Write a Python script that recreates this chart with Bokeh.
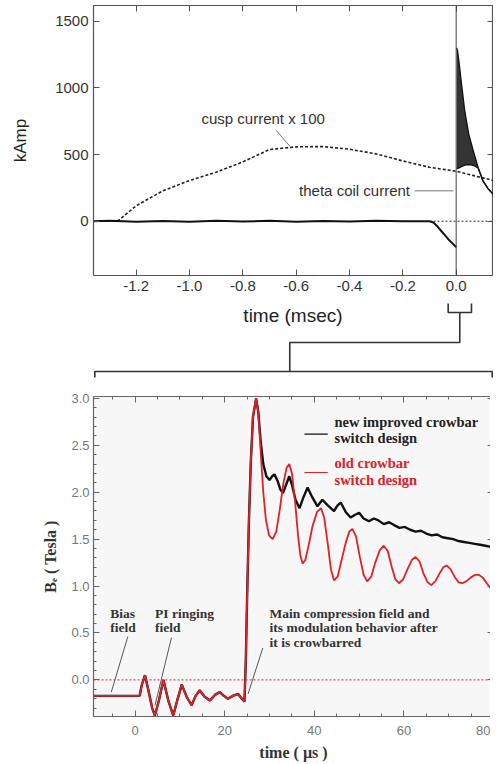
from bokeh.plotting import figure
from bokeh.layouts import column
from bokeh.models import (Range1d, FixedTicker, PrintfTickFormatter, LinearAxis, Span, Label,
                          CustomLabelingPolicy)
from bokeh.embed import file_html
from bokeh.resources import INLINE

# ---------------- top panel: currents (kAmp) vs time (msec) ----------------
theta_t = [-1.36, -1.30, -1.20, -1.10, -1.00, -0.90, -0.80, -0.70, -0.60, -0.50, -0.40, -0.30,
           -0.20, -0.10, -0.085, -0.07, -0.055, -0.04, -0.025, -0.012, -0.003, 0.0]
theta_v = [0, 3, -4, 2, -3, 4, -2, 3, -3, 2, -2, 3, -1, 0, -10, -40, -75, -110, -145, -170, -188, -195]

band_t = [0.002, 0.005, 0.01, 0.02, 0.032, 0.047, 0.064, 0.082, 0.10, 0.12, 0.14]
band_hi = [1300, 1280, 1205, 1030, 830, 655, 530, 405, 305, 243, 200]
band_lo = [400, 395, 400, 410, 420, 425, 420, 400, 305, 243, 200]

cusp_t = [-1.27, -1.2, -1.1, -1.0, -0.9, -0.8, -0.7, -0.6, -0.5, -0.4, -0.3, -0.2, -0.1, 0.0, 0.07, 0.14]
cusp_v = [0, 116, 228, 305, 368, 445, 538, 558, 560, 540, 505, 452, 405, 375, 340, 305]

top_xticks = [-1.2, -1.0, -0.8, -0.6, -0.4, -0.2, 0.0]
top_yticks = [0, 500, 1000, 1500]

# ---------------- bottom panel: B field (Tesla) vs time (us) ----------------
pre_t = [-9.3, -5.0, 0.0, 1.0, 1.5, 2.2, 3.0, 3.8, 4.4, 5.3, 6.3, 7.4, 8.5, 9.5, 10.4, 11.5, 12.6,
         13.5, 14.4, 15.5, 16.7, 17.8, 18.9, 19.8, 20.7, 21.8, 23.0, 23.8, 24.4,
         24.7, 25.0, 25.4, 25.8, 26.3]
pre_b = [-0.17, -0.17, -0.17, -0.17, -0.05, 0.05, -0.12, -0.30, -0.38, -0.22, 0.0, -0.22, -0.38,
         -0.20, -0.05, -0.18, -0.27, -0.17, -0.11, -0.18, -0.22, -0.16, -0.13, -0.17, -0.20,
         -0.17, -0.15, -0.20, -0.23, 0.2, 0.9, 1.7, 2.3, 2.8]

new_t = [27.0, 27.5, 28.0, 28.6, 29.3, 30.0, 30.6, 31.1, 31.8, 32.4, 33.0, 33.7, 34.4, 35.0, 35.8,
         36.7, 37.6, 38.5, 39.5, 40.7, 41.8, 43.0, 44.4, 45.2, 45.9, 47.0, 48.1, 49.1, 50.0, 51.0,
         52.2, 53.3, 54.3, 55.5, 56.7, 57.8, 59.0, 60.2, 61.4, 62.6, 63.8, 65.0, 66.2, 67.4, 68.6,
         69.8, 71.0, 72.2, 73.4, 74.6, 75.8, 77.0, 78.2, 79.2, 80.0]
new_b = [3.00, 2.85, 2.55, 2.30, 2.17, 2.13, 2.17, 2.19, 2.12, 2.03, 1.99, 2.08, 2.17, 2.08, 1.92,
         1.83, 1.95, 2.05, 1.95, 1.85, 1.92, 1.86, 1.80, 1.86, 1.89, 1.79, 1.73, 1.76, 1.78, 1.72,
         1.69, 1.72, 1.70, 1.66, 1.68, 1.65, 1.62, 1.63, 1.60, 1.58, 1.59, 1.56, 1.54, 1.55, 1.52,
         1.51, 1.50, 1.48, 1.47, 1.46, 1.45, 1.44, 1.43, 1.42, 1.41]

old_t = [27.0, 27.5, 28.0, 28.6, 29.2, 29.9, 30.7, 31.5, 32.3, 33.1, 33.8, 34.4, 35.0, 35.7, 36.4,
         36.9, 37.4, 38.0, 38.8, 39.6, 40.6, 41.5, 42.2, 43.0, 43.7, 44.4, 45.2, 46.1, 47.0, 47.8,
         48.5, 49.3, 50.2, 51.0, 51.8, 52.7, 53.6, 54.6, 55.5, 56.4, 57.3, 58.1, 58.9, 59.8, 60.8,
         61.8, 62.6, 63.5, 64.4, 65.3, 66.1, 67.0, 67.9, 68.8, 69.5, 70.4, 71.3, 72.2, 73.0, 73.9,
         74.9, 75.9, 76.7, 77.6, 78.5, 79.3, 80.0]
old_b = [3.00, 2.85, 2.45, 2.00, 1.70, 1.54, 1.50, 1.58, 1.82, 2.10, 2.26, 2.30, 2.20, 1.90, 1.52,
         1.32, 1.24, 1.28, 1.45, 1.64, 1.79, 1.83, 1.73, 1.45, 1.18, 1.06, 1.10, 1.28, 1.46, 1.58,
         1.61, 1.53, 1.30, 1.12, 1.05, 1.10, 1.25, 1.38, 1.43, 1.37, 1.20, 1.07, 1.03, 1.07, 1.18,
         1.28, 1.31, 1.26, 1.13, 1.04, 1.01, 1.05, 1.13, 1.20, 1.22, 1.18, 1.10, 1.04, 1.03, 1.05,
         1.09, 1.12, 1.12, 1.09, 1.03, 0.98, 0.96]

bot_xticks = [0, 20, 40, 60, 80]
bot_xminor = [-5, 5, 10, 15, 25, 30, 35, 45, 50, 55, 65, 70, 75]
bot_yticks = [0.0, 0.5, 1.0, 1.5, 2.0, 2.5, 3.0]
bot_yminor = [-0.3, -0.2, -0.1, 0.1, 0.2, 0.3, 0.4, 0.6, 0.7, 0.8, 0.9, 1.1, 1.2, 1.3, 1.4,
              1.6, 1.7, 1.8, 1.9, 2.1, 2.2, 2.3, 2.4, 2.6, 2.7, 2.8, 2.9]

RED = "#e0202a"
SANS = "Liberation Sans"
SERIF = "Liberation Serif"


def mirror(p, side, ticker, tick_color, major_in, minor_in):
    # tick marks only (inside), no labels drawn at all
    ax = LinearAxis(ticker=ticker, axis_line_color=None,
                    major_tick_in=major_in, major_tick_out=0,
                    minor_tick_in=minor_in, minor_tick_out=0,
                    major_tick_line_color=tick_color, minor_tick_line_color=tick_color,
                    major_label_standoff=0, major_label_text_font_size="0px",
                    major_label_policy=CustomLabelingPolicy(
                        code="for (const i of Array.from(indices)) { indices.unset(i) } return indices"))
    p.add_layout(ax, side)


# ======================= TOP FIGURE =======================
top = figure(frame_width=400, frame_height=270, min_border_left=93, min_border_right=0,
             min_border_top=5, min_border_bottom=0,
             x_range=Range1d(-1.36, 0.14), y_range=Range1d(-407, 1618),
             toolbar_location=None, output_backend="svg")
top.grid.visible = False
top.outline_line_color = "#555555"
top.outline_line_width = 1.2
top.xaxis.ticker = FixedTicker(ticks=top_xticks)
top.xaxis.formatter = PrintfTickFormatter(format="%.1f")
top.yaxis.ticker = FixedTicker(ticks=top_yticks)
for ax in (top.xaxis[0], top.yaxis[0]):
    ax.axis_line_color = None
    ax.major_tick_in = 6
    ax.major_tick_out = 0
    ax.minor_tick_line_color = None
    ax.major_tick_line_color = "#555555"
    ax.major_label_text_font = SANS
    ax.major_label_text_font_size = "15px"
    ax.major_label_text_color = "#333333"
    ax.major_label_standoff = 5
top.yaxis.axis_label = "kAmp"
top.yaxis.axis_label_text_font = SANS
top.yaxis.axis_label_text_font_size = "17px"
top.yaxis.axis_label_text_font_style = "normal"
top.yaxis.axis_label_text_color = "#222222"
top.yaxis.axis_label_standoff = 22
mirror(top, "above", FixedTicker(ticks=top_xticks), "#555555", 6, 0)
mirror(top, "right", FixedTicker(ticks=top_yticks), "#555555", 6, 0)

top.add_layout(Span(location=0, dimension="height", line_color="#444444", line_width=1))
top.line([-0.1, 0.14], [0, 0], line_color="#333333", line_dash="2 2", line_width=1)
top.line(cusp_t, cusp_v, line_color="#222222", line_dash="3 2", line_width=1.6)
top.line(theta_t, theta_v, line_color="#111111", line_width=2)
top.varea(x=band_t, y1=band_lo, y2=band_hi, fill_color="#111111", fill_alpha=0.85)
top.line(band_t, band_hi, line_color="#111111", line_width=1.3)
top.line(band_t, band_lo, line_color="#111111", line_width=1.3)

top.add_layout(Label(x=-0.955, y=770, text="cusp current x 100", text_font=SANS,
                     text_font_size="15px", text_color="#333333", text_baseline="middle"))
top.line([-0.674, -0.624], [680, 563], line_color="#777777", line_width=1)
top.add_layout(Label(x=-0.589, y=228, text="theta coil current", text_font=SANS,
                     text_font_size="15px", text_color="#333333", text_baseline="middle"))
top.line([-0.156, -0.01], [228, 228], line_color="#777777", line_width=1)

# ======================= MIDDLE (zoom bracket) =======================
mid = figure(frame_width=400, frame_height=93, min_border_left=93, min_border_right=0,
             min_border_top=0, min_border_bottom=0, x_range=top.x_range, y_range=Range1d(0, 93),
             x_axis_type=None, y_axis_type=None, toolbar_location=None, output_backend="svg")
mid.grid.visible = False
mid.outline_line_color = None
mid.add_layout(Label(x=-0.612, y=71, text="time (msec)", text_font=SANS, text_font_size="19px",
                     text_color="#222222", text_align="center", text_baseline="middle"))
mid.line([-0.030, -0.030, 0.0574, 0.0574], [83, 74, 74, 83], line_color="#333333", line_width=1.6)
mid.line([0.0135, 0.0135, -0.624, -0.624], [74, 44, 44, 15], line_color="#333333", line_width=1.6)
mid.line([-1.355, -1.355, 0.135, 0.135], [9, 15, 15, 9], line_color="#333333", line_width=1.6)

# ======================= BOTTOM FIGURE =======================
bot = figure(frame_width=400, frame_height=320, min_border_left=90, min_border_right=0,
             min_border_top=10, min_border_bottom=0,
             x_range=Range1d(-9.3, 80), y_range=Range1d(-0.39, 3.02),
             toolbar_location=None, output_backend="svg",
             background_fill_color="#f7f7f7")
bot.grid.visible = False
bot.outline_line_color = "#666666"
bot.outline_line_width = 1.2
bot.xaxis.ticker = FixedTicker(ticks=bot_xticks, minor_ticks=bot_xminor)
bot.yaxis.ticker = FixedTicker(ticks=bot_yticks, minor_ticks=bot_yminor)
bot.yaxis.formatter = PrintfTickFormatter(format="%.1f")
for ax in (bot.xaxis[0], bot.yaxis[0]):
    ax.axis_line_color = None
    ax.major_tick_in = 6
    ax.major_tick_out = 0
    ax.minor_tick_in = 3
    ax.minor_tick_out = 0
    ax.major_tick_line_color = "#666666"
    ax.minor_tick_line_color = "#666666"
    ax.major_label_text_font = SANS
    ax.major_label_text_font_size = "13px"
    ax.major_label_text_color = "#777777"
    ax.axis_label_text_font = SERIF
    ax.axis_label_text_font_style = "bold"
    ax.axis_label_text_color = "#333333"
bot.xaxis.major_label_standoff = 9
bot.xaxis.axis_label = "time ( µs )"
bot.xaxis.axis_label_text_font_size = "16px"
bot.xaxis.axis_label_standoff = 6
bot.yaxis.major_label_standoff = 4
bot.yaxis.axis_label = "Bₑ ( Tesla )"
bot.yaxis.axis_label_text_font_size = "16px"
bot.yaxis.axis_label_standoff = 9
mirror(bot, "above", FixedTicker(ticks=bot_xticks, minor_ticks=bot_xminor), "#666666", 6, 3)
mirror(bot, "right", FixedTicker(ticks=bot_yticks, minor_ticks=bot_yminor), "#666666", 6, 3)

bot.add_layout(Span(location=0, dimension="width", line_color=RED, line_dash="2 2", line_width=1))
bot.line(pre_t + new_t, pre_b + new_b, line_color="#111111", line_width=2.4)
bot.line(pre_t + old_t, pre_b + old_b, line_color=RED, line_width=1.8)

# legend (drawn by hand: text colour matches each series)
bot.line([37.8, 43.0], [2.62, 2.62], line_color="#111111", line_width=1.2)
bot.line([37.8, 43.0], [2.21, 2.21], line_color=RED, line_width=1.2)
for txt, yy, col in [("new improved crowbar", 2.75, "#222222"), ("switch design", 2.58, "#222222"),
                     ("old crowbar", 2.31, RED), ("switch design", 2.13, RED)]:
    bot.add_layout(Label(x=44.5, y=yy, text=txt, text_font=SERIF, text_font_size="14.5px",
                         text_font_style="bold", text_color=col, text_baseline="middle"))

# annotations
for txt, xx, yy in [("Bias", -5.56, 0.71), ("field", -5.56, 0.555),
                    ("PI ringing", 4.44, 0.71), ("field", 4.44, 0.555),
                    ("Main compression field and", 30.0, 0.71),
                    ("its modulation behavior after", 30.0, 0.555),
                    ("it is crowbarred", 30.0, 0.40)]:
    bot.add_layout(Label(x=xx, y=yy, text=txt, text_font=SERIF, text_font_size="13.5px",
                         text_font_style="bold", text_color="#333333", text_baseline="middle"))
bot.line([-1.64, -5.33], [0.46, -0.13], line_color="#555555", line_width=1)
bot.line([8.1, 4.44], [0.45, -0.27], line_color="#555555", line_width=1)
bot.line([28.5, 25.2], [0.34, -0.15], line_color="#555555", line_width=1)

layout = column(top, mid, bot, spacing=0)
open("out.html", "w").write(file_html(layout, INLINE))
